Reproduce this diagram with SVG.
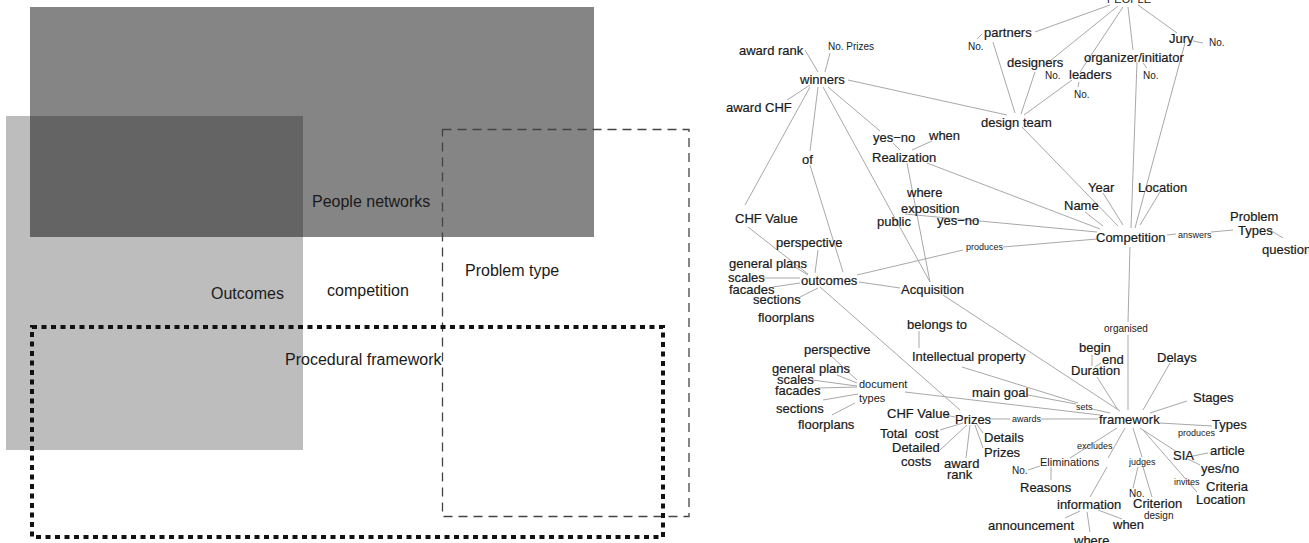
<svg xmlns="http://www.w3.org/2000/svg" width="1309" height="543" viewBox="0 0 1309 543">
<style>
text{font-family:"Liberation Sans",Arial,sans-serif;fill:#1a1a1a}
.L{font-size:16px;fill:#1a1a1a}
.n{font-size:13px;stroke:#1a1a1a;stroke-width:0.2}
.s{font-size:9px}
.m{font-size:10px}
.d{font-size:11px}
#edges line{stroke:#a8a8a8;stroke-width:1}
</style>
<rect width="1309" height="543" fill="#fff"/>
<g id="areas">
<rect x="6" y="116" width="297" height="334" fill="#bdbdbd"/>
<rect x="30" y="7" width="564" height="230" fill="#858585"/>
<rect x="30" y="116" width="273" height="121" fill="#646464"/>
<rect x="442.5" y="129.5" width="246.5" height="387" fill="none" stroke="#444" stroke-width="1.3" stroke-dasharray="9 6"/>
<rect x="32" y="327" width="631" height="210" fill="none" stroke="#111" stroke-width="4" stroke-dasharray="5 4.5"/>
</g>
<g id="area-labels">
<g id="l-people"><text class="L" x="312" y="207">People networks</text></g>
<g id="l-outcomes"><text class="L" x="211" y="299">Outcomes</text></g>
<g id="l-competition"><text class="L" x="327" y="296">competition</text></g>
<g id="l-problem"><text class="L" x="465" y="276">Problem type</text></g>
<g id="l-procedural"><text class="L" x="285" y="365">Procedural framework</text></g>
</g>
<g id="edges">
<line x1="1110" y1="5" x2="1035" y2="32"/>
<line x1="1118" y1="6" x2="1045" y2="65"/>
<line x1="1123" y1="7" x2="1080" y2="72"/>
<line x1="1128" y1="7" x2="1133" y2="50"/>
<line x1="1138" y1="5" x2="1177" y2="33"/>
<line x1="1193" y1="41" x2="1203" y2="43"/>
<line x1="977" y1="39" x2="982" y2="34"/>
<line x1="1143" y1="63" x2="1147" y2="68"/>
<line x1="1079" y1="82" x2="1078" y2="87"/>
<line x1="993" y1="42" x2="1015" y2="113"/>
<line x1="1035" y1="72" x2="1021" y2="114"/>
<line x1="1072" y1="80" x2="1024" y2="115"/>
<line x1="848" y1="80" x2="1007" y2="115"/>
<line x1="1022" y1="127" x2="1118" y2="226"/>
<line x1="1137" y1="62" x2="1131" y2="228"/>
<line x1="1185" y1="43" x2="1135" y2="228"/>
<line x1="1103" y1="193" x2="1123" y2="225"/>
<line x1="1160" y1="192" x2="1140" y2="225"/>
<line x1="1085" y1="212" x2="1103" y2="226"/>
<line x1="927" y1="163" x2="1100" y2="229"/>
<line x1="905" y1="214" x2="1097" y2="232"/>
<line x1="857" y1="275" x2="963" y2="250"/>
<line x1="1003" y1="247" x2="1097" y2="239"/>
<line x1="1167" y1="235" x2="1176" y2="234"/>
<line x1="1211" y1="232" x2="1233" y2="230"/>
<line x1="1270" y1="230" x2="1283" y2="238"/>
<line x1="1130" y1="247" x2="1128" y2="322"/>
<line x1="1128" y1="335" x2="1128" y2="410"/>
<line x1="805" y1="50" x2="818" y2="72"/>
<line x1="830" y1="53" x2="825" y2="72"/>
<line x1="787" y1="100" x2="810" y2="85"/>
<line x1="810" y1="87" x2="745" y2="205"/>
<line x1="818" y1="87" x2="810" y2="151"/>
<line x1="810" y1="165" x2="843" y2="272"/>
<line x1="823" y1="87" x2="930" y2="282"/>
<line x1="828" y1="87" x2="880" y2="131"/>
<line x1="893" y1="143" x2="900" y2="150"/>
<line x1="932" y1="141" x2="912" y2="150"/>
<line x1="907" y1="163" x2="930" y2="282"/>
<line x1="748" y1="227" x2="808" y2="274"/>
<line x1="818" y1="250" x2="815" y2="273"/>
<line x1="795" y1="267" x2="808" y2="275"/>
<line x1="763" y1="278" x2="800" y2="278"/>
<line x1="773" y1="287" x2="800" y2="283"/>
<line x1="800" y1="297" x2="818" y2="288"/>
<line x1="859" y1="282" x2="900" y2="288"/>
<line x1="820" y1="287" x2="960" y2="410"/>
<line x1="943" y1="295" x2="1120" y2="411"/>
<line x1="919" y1="331" x2="919" y2="348"/>
<line x1="962" y1="367" x2="1078" y2="403"/>
<line x1="1028" y1="395" x2="1076" y2="404"/>
<line x1="1092" y1="409" x2="1110" y2="413"/>
<line x1="905" y1="392" x2="1100" y2="415"/>
<line x1="830" y1="355" x2="857" y2="380"/>
<line x1="837" y1="375" x2="857" y2="383"/>
<line x1="812" y1="380" x2="857" y2="386"/>
<line x1="818" y1="388" x2="857" y2="387"/>
<line x1="823" y1="400" x2="858" y2="394"/>
<line x1="832" y1="415" x2="855" y2="403"/>
<line x1="945" y1="415" x2="955" y2="417"/>
<line x1="989" y1="419" x2="1010" y2="419"/>
<line x1="1041" y1="419" x2="1098" y2="419"/>
<line x1="940" y1="430" x2="963" y2="423"/>
<line x1="940" y1="450" x2="967" y2="425"/>
<line x1="966" y1="458" x2="970" y2="425"/>
<line x1="983" y1="433" x2="976" y2="423"/>
<line x1="983" y1="448" x2="975" y2="425"/>
<line x1="1092" y1="355" x2="1092" y2="366"/>
<line x1="1101" y1="363" x2="1095" y2="367"/>
<line x1="1097" y1="377" x2="1118" y2="410"/>
<line x1="1170" y1="363" x2="1143" y2="410"/>
<line x1="1187" y1="401" x2="1150" y2="413"/>
<line x1="1160" y1="423" x2="1212" y2="426"/>
<line x1="1140" y1="428" x2="1177" y2="452"/>
<line x1="1193" y1="456" x2="1208" y2="453"/>
<line x1="1188" y1="459" x2="1200" y2="465"/>
<line x1="1143" y1="430" x2="1197" y2="492"/>
<line x1="1117" y1="428" x2="1070" y2="458"/>
<line x1="1028" y1="470" x2="1040" y2="466"/>
<line x1="1051" y1="467" x2="1051" y2="480"/>
<line x1="1125" y1="428" x2="1108" y2="458"/>
<line x1="1107" y1="467" x2="1090" y2="497"/>
<line x1="1133" y1="428" x2="1142" y2="457"/>
<line x1="1143" y1="467" x2="1152" y2="497"/>
<line x1="1138" y1="467" x2="1133" y2="488"/>
<line x1="1080" y1="511" x2="1065" y2="518"/>
<line x1="1098" y1="510" x2="1122" y2="519"/>
<line x1="1087" y1="512" x2="1090" y2="532"/>
</g>
<g id="nodes">
<g id="n-people"><text class="d" x="1107" y="3">PEOPLE</text></g>
<g id="n-partners"><text class="n" x="984" y="37">partners</text></g>
<g id="n-partners-no"><text class="m" x="968" y="50">No.</text></g>
<g id="n-jury"><text class="n" x="1169" y="43">Jury</text></g>
<g id="n-jury-no"><text class="m" x="1209" y="46">No.</text></g>
<g id="n-organizer"><text class="n" x="1084" y="62">organizer/initiator</text></g>
<g id="n-designers"><text class="n" x="1007" y="67">designers</text></g>
<g id="n-designers-no"><text class="m" x="1045" y="79">No.</text></g>
<g id="n-leaders"><text class="n" x="1069" y="79">leaders</text></g>
<g id="n-organizer-no"><text class="m" x="1143" y="79">No.</text></g>
<g id="n-leaders-no"><text class="m" x="1074" y="98">No.</text></g>
<g id="n-designteam"><text class="n" x="981" y="127">design team</text></g>
<g id="n-awardrank"><text class="n" x="739" y="55">award rank</text></g>
<g id="n-noprizes"><text class="m" x="828" y="50">No. Prizes</text></g>
<g id="n-winners"><text class="n" x="800" y="84">winners</text></g>
<g id="n-awardchf"><text class="n" x="726" y="112">award CHF</text></g>
<g id="n-yesno1"><text class="n" x="873" y="142">yes−no</text></g>
<g id="n-when1"><text class="n" x="929" y="140">when</text></g>
<g id="n-of"><text class="n" x="802" y="164">of</text></g>
<g id="n-realization"><text class="n" x="872" y="162">Realization</text></g>
<g id="n-where1"><text class="n" x="907" y="197">where</text></g>
<g id="n-exposition"><text class="n" x="901" y="213">exposition</text></g>
<g id="n-public"><text class="n" x="877" y="226">public</text></g>
<g id="n-yesno2"><text class="n" x="937" y="225">yes−no</text></g>
<g id="n-chfvalue1"><text class="n" x="735" y="223">CHF Value</text></g>
<g id="n-perspective1"><text class="n" x="776" y="247">perspective</text></g>
<g id="n-produces1"><text class="s" x="966" y="250">produces</text></g>
<g id="n-year"><text class="n" x="1088" y="192">Year</text></g>
<g id="n-location1"><text class="n" x="1138" y="192">Location</text></g>
<g id="n-name"><text class="n" x="1064" y="210">Name</text></g>
<g id="n-competition"><text class="n" x="1096" y="242">Competition</text></g>
<g id="n-answers"><text class="s" x="1178" y="238">answers</text></g>
<g id="n-problemtypes"><text class="n" x="1230" y="221">Problem</text><text class="n" x="1238" y="235">Types</text></g>
<g id="n-question"><text class="n" x="1262" y="254">question</text></g>
<g id="n-generalplans1"><text class="n" x="729" y="268">general plans</text></g>
<g id="n-scales1"><text class="n" x="728" y="282">scales</text></g>
<g id="n-outcomes"><text class="n" x="801" y="285">outcomes</text></g>
<g id="n-facades1"><text class="n" x="729" y="294">facades</text></g>
<g id="n-acquisition"><text class="n" x="901" y="294">Acquisition</text></g>
<g id="n-sections1"><text class="n" x="753" y="304">sections</text></g>
<g id="n-floorplans1"><text class="n" x="758" y="322">floorplans</text></g>
<g id="n-belongsto"><text class="n" x="907" y="329">belongs to</text></g>
<g id="n-organised"><text class="m" x="1104" y="332">organised</text></g>
<g id="n-begin"><text class="n" x="1079" y="352">begin</text></g>
<g id="n-perspective2"><text class="n" x="804" y="354">perspective</text></g>
<g id="n-ip"><text class="n" x="912" y="361">Intellectual property</text></g>
<g id="n-delays"><text class="n" x="1157" y="362">Delays</text></g>
<g id="n-end"><text class="n" x="1102" y="364">end</text></g>
<g id="n-generalplans2"><text class="n" x="772" y="373">general plans</text></g>
<g id="n-duration"><text class="n" x="1071" y="375">Duration</text></g>
<g id="n-scales2"><text class="n" x="777" y="384">scales</text></g>
<g id="n-document"><text class="d" x="859" y="388">document</text></g>
<g id="n-facades2"><text class="n" x="775" y="395">facades</text></g>
<g id="n-maingoal"><text class="n" x="972" y="397">main goal</text></g>
<g id="n-types1"><text class="d" x="859" y="402">types</text></g>
<g id="n-stages"><text class="n" x="1193" y="402">Stages</text></g>
<g id="n-sets"><text class="s" x="1076" y="410">sets</text></g>
<g id="n-sections2"><text class="n" x="776" y="413">sections</text></g>
<g id="n-chfvalue2"><text class="n" x="887" y="418">CHF Value</text></g>
<g id="n-prizes"><text class="n" x="955" y="424">Prizes</text></g>
<g id="n-awards"><text class="s" x="1012" y="422">awards</text></g>
<g id="n-framework"><text class="n" x="1099" y="424">framework</text></g>
<g id="n-types2"><text class="n" x="1212" y="429">Types</text></g>
<g id="n-floorplans2"><text class="n" x="798" y="429">floorplans</text></g>
<g id="n-totalcost"><text class="n" x="880" y="438" xml:space="preserve">Total  cost</text></g>
<g id="n-produces2"><text class="s" x="1178" y="436">produces</text></g>
<g id="n-detailsprizes"><text class="n" x="984" y="442">Details</text><text class="n" x="984" y="457">Prizes</text></g>
<g id="n-excludes"><text class="s" x="1077" y="449">excludes</text></g>
<g id="n-detailedcosts"><text class="n" x="892" y="452">Detailed</text><text class="n" x="901" y="466">costs</text></g>
<g id="n-article"><text class="n" x="1210" y="455">article</text></g>
<g id="n-sia"><text class="n" x="1173" y="460">SIA</text></g>
<g id="n-eliminations"><text class="d" x="1040" y="466">Eliminations</text></g>
<g id="n-judges"><text class="s" x="1129" y="465">judges</text></g>
<g id="n-awardrank2"><text class="n" x="944" y="468">award</text><text class="n" x="947" y="479">rank</text></g>
<g id="n-yesno3"><text class="n" x="1201" y="473">yes/no</text></g>
<g id="n-elim-no"><text class="m" x="1012" y="474">No.</text></g>
<g id="n-invites"><text class="s" x="1174" y="485">invites</text></g>
<g id="n-criteria"><text class="n" x="1206" y="491">Criteria</text></g>
<g id="n-reasons"><text class="n" x="1020" y="492">Reasons</text></g>
<g id="n-judges-no"><text class="m" x="1129" y="497">No.</text></g>
<g id="n-location2"><text class="n" x="1196" y="504">Location</text></g>
<g id="n-information"><text class="n" x="1057" y="509">information</text></g>
<g id="n-criterion"><text class="n" x="1133" y="508">Criterion</text></g>
<g id="n-design"><text class="m" x="1144" y="519">design</text></g>
<g id="n-announcement"><text class="n" x="988" y="530">announcement</text></g>
<g id="n-when2"><text class="n" x="1113" y="529">when</text></g>
<g id="n-where2"><text class="n" x="1074" y="545">where</text></g>
</g>
</svg>
